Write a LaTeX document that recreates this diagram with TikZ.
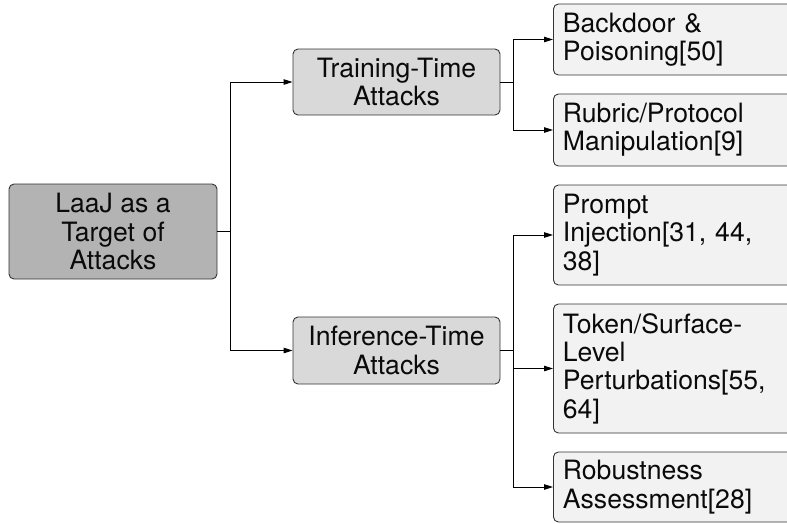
\documentclass[tikz,border=0pt]{standalone}
\usepackage{fontspec}
\setmainfont{TeX Gyre Heros}
\usetikzlibrary{arrows.meta}
\definecolor{rootfill}{HTML}{B3B3B3}
\definecolor{midfill}{HTML}{D9D9D9}
\definecolor{leaffill}{HTML}{F2F2F2}
\definecolor{edgec}{HTML}{333333}
\definecolor{txt}{HTML}{0A0A0A}
\begin{document}
\begin{tikzpicture}[x=1pt,y=-1pt,
  every node/.style={font=\fontsize{26.6}{28.3}\selectfont, text=txt},
  boxbase/.style={draw=edgec, line width=0.9pt, rounded corners=5pt, inner sep=0pt},
  rootbox/.style={boxbase, fill=rootfill, align=center, minimum width=208pt},
  midbox/.style={boxbase, fill=midfill, align=center, minimum width=207pt},
  leafbox/.style={boxbase, fill=leaffill, align=left, text width=238pt, inner xsep=9.5pt, anchor=west},
  conn/.style={draw=black, line width=0.9pt, -{Triangle[length=9pt,width=5.5pt]}},
  plain/.style={draw=black, line width=0.9pt}
]
\useasboundingbox (0,0) rectangle (787,523);

\node[rootbox, minimum height=95pt] (root) at (113,231.5) {LaaJ as a\\Target of\\Attacks};
\node[midbox, minimum height=66pt] (train) at (396.5,82) {Training-Time\\Attacks};
\node[midbox, minimum height=67pt] (inf) at (396.5,350.5) {Inference-Time\\Attacks};

\node[leafbox, minimum height=71pt] (bd) at (553,39.5) {Backdoor \&\\Poisoning[50]};
\node[leafbox, minimum height=72pt] (rp) at (553,130) {Rubric/Protocol\\Manipulation[9]};
\node[leafbox, minimum height=100pt] (pi) at (553,235) {Prompt\\Injection[31, 44,\\38]};
\node[leafbox, minimum height=129pt] (tok) at (553,368.5) {Token/Surface-\\Level\\Perturbations[55,\\64]};
\node[leafbox, minimum height=70pt] (rob) at (553,487) {Robustness\\Assessment[28]};

\draw[conn] (root.east) -- ++(13,0) coordinate (j0) |- (train.west);
\draw[conn] (j0) |- (inf.west);

\draw[conn] (train.east) -- ++(13,0) coordinate (j1) |- (bd.west);
\draw[conn] (j1) |- (rp.west);

\draw[conn] (inf.east) -- ++(13,0) coordinate (j2) |- (pi.west);
\draw[conn] (j2) |- (tok.west);
\draw[conn] (j2) |- (rob.west);
\end{tikzpicture}
\end{document}
